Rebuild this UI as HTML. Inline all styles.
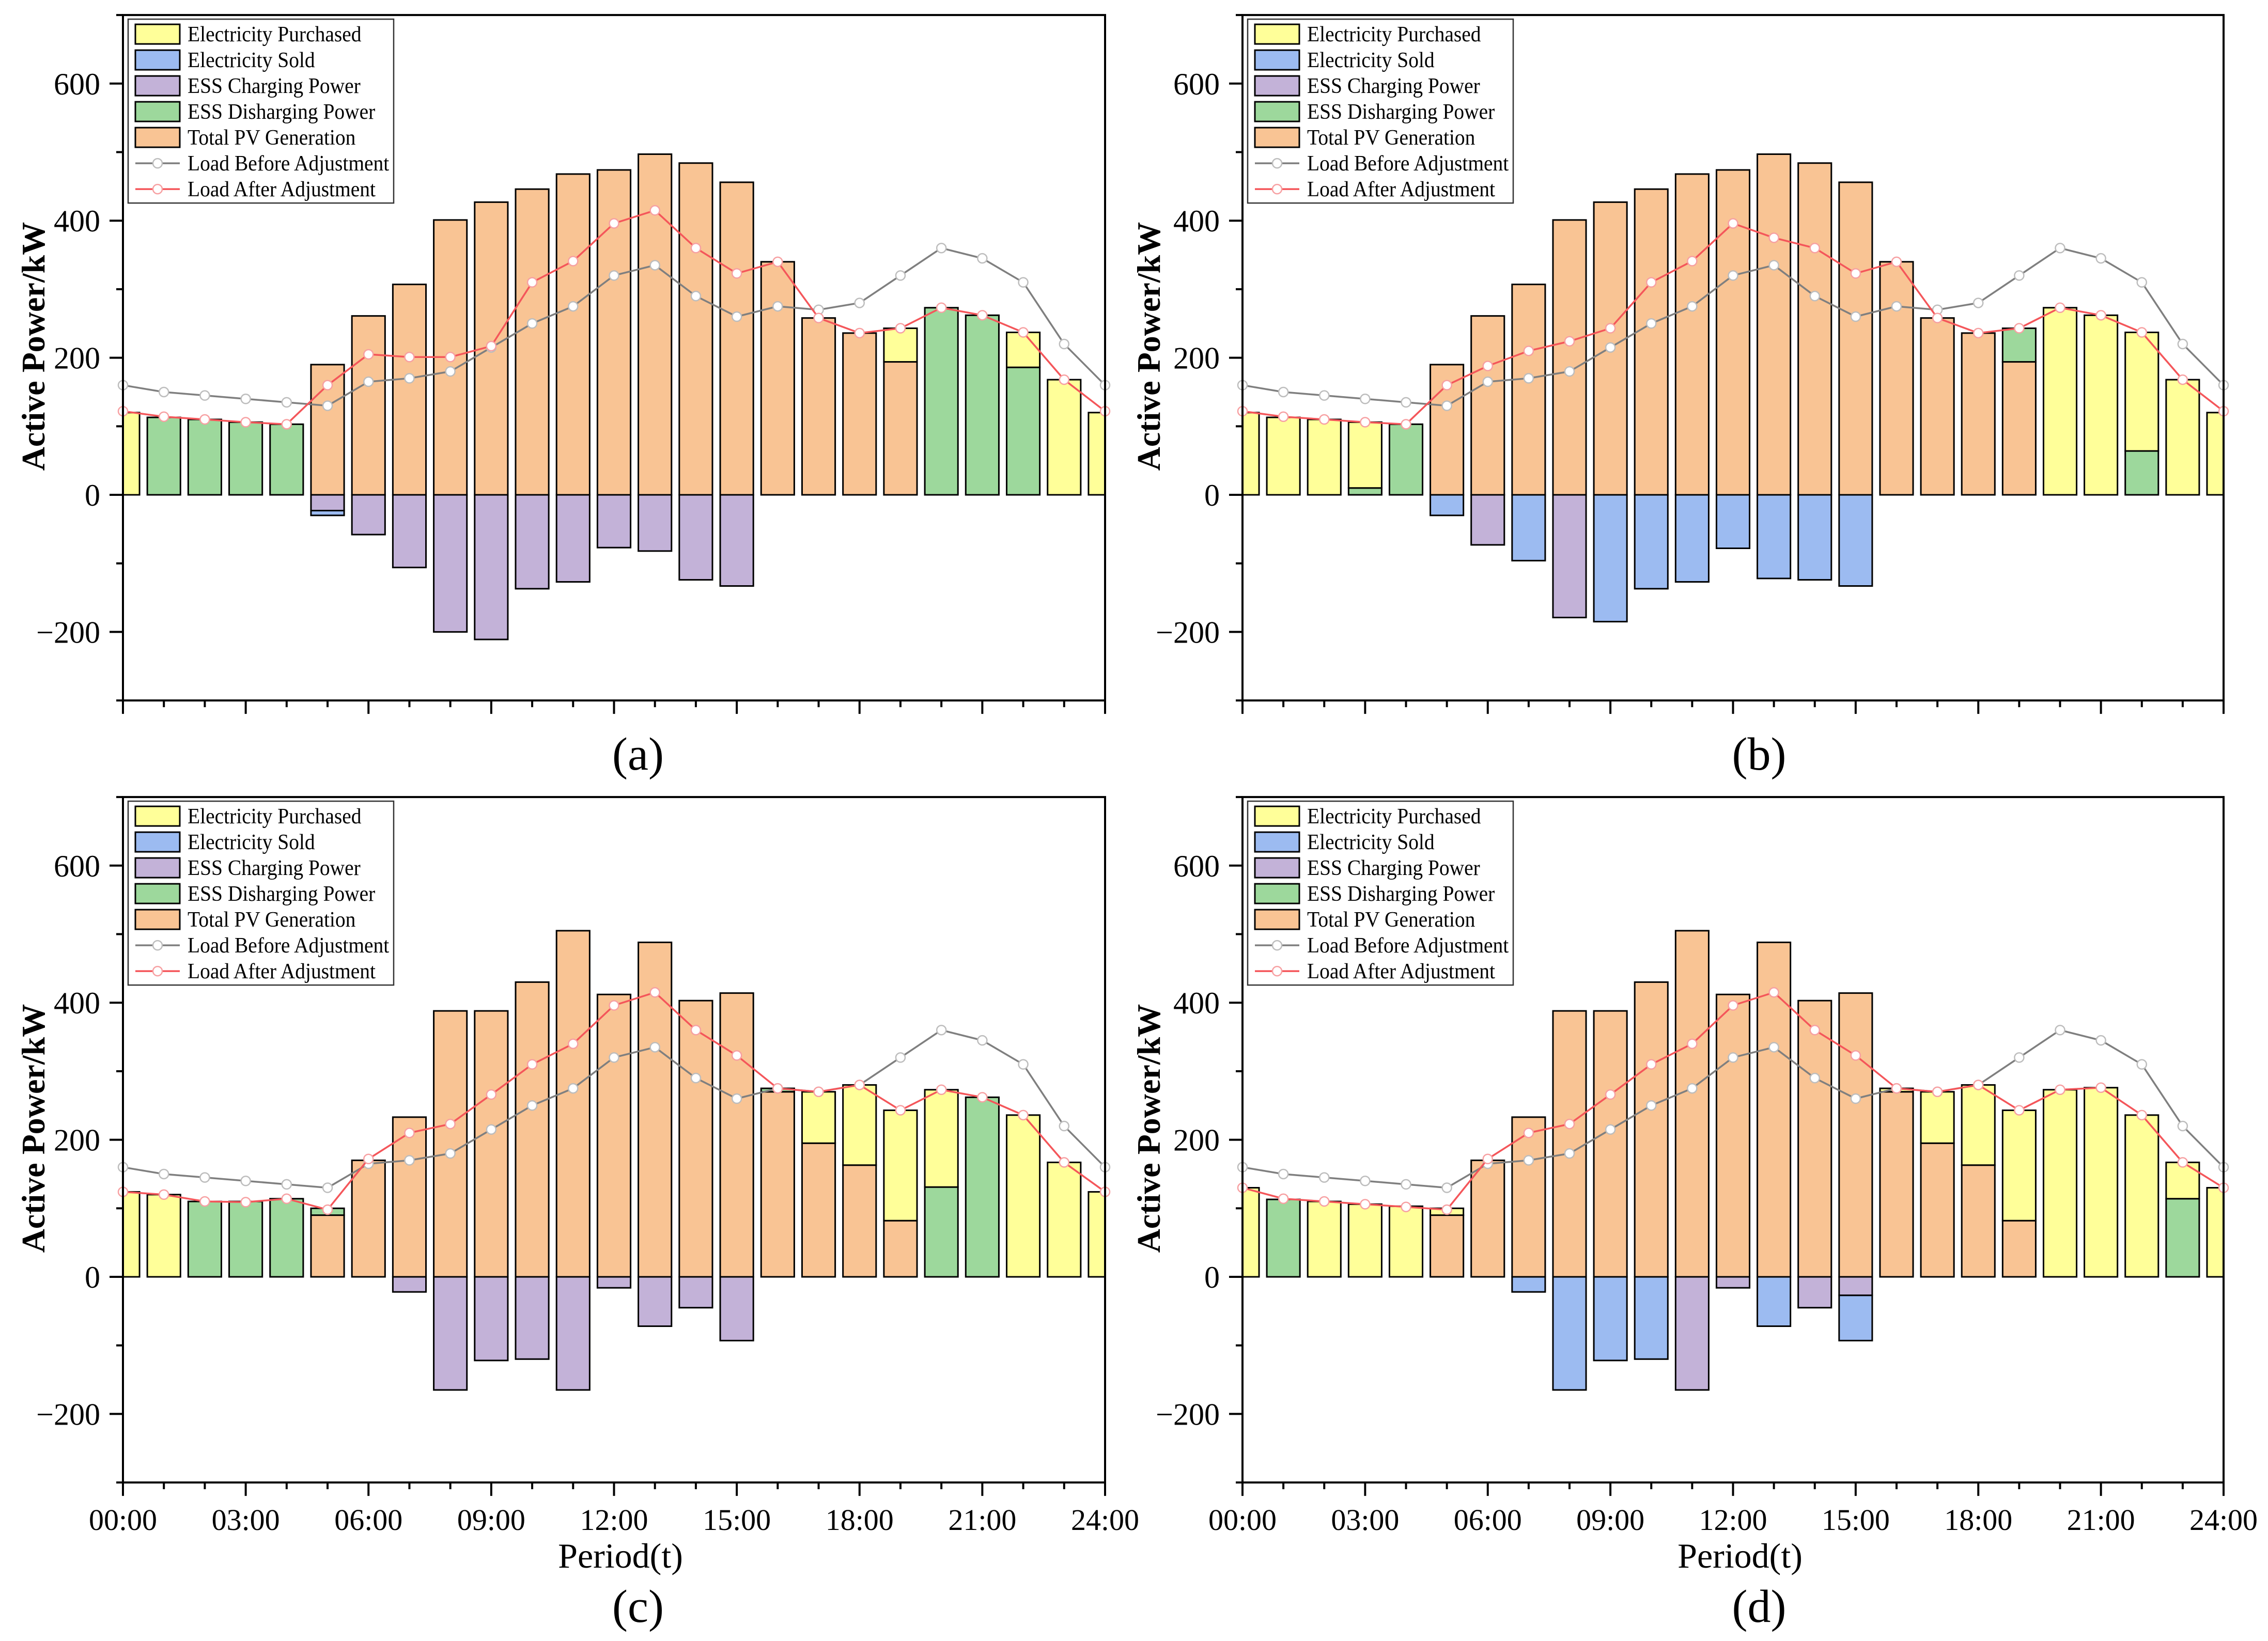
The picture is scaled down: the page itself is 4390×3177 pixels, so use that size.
<!DOCTYPE html>
<html><head><meta charset="utf-8"><style>html,body{margin:0;padding:0;background:#fff}svg{display:block}</style></head>
<body>
<svg id="chart" xmlns="http://www.w3.org/2000/svg" width="4390" height="3177" viewBox="0 0 4390 3177" font-family="'Liberation Serif', serif"></svg>
<script>
const hours = [0,1,2,3,4,5,6,7,8,9,10,11,12,13,14,15,16,17,18,19,20,21,22,23,24];
const xTickLabels = ["00:00","03:00","06:00","09:00","12:00","15:00","18:00","21:00","24:00"];
const yTickValues = [-200,0,200,400,600];
const legendLabels = ["Electricity Purchased","Electricity Sold","ESS Charging Power","ESS Disharging Power","Total PV Generation","Load Before Adjustment","Load After Adjustment"];
const loadBefore = [160,150,145,140,135,130,165,170,180,215,250,275,320,335,290,260,275,270,280,320,360,345,310,220,160];

// Panel (a)
const aPV   = [0,0,0,0,0,190,261,307,401,427,446,468,474,497,484,456,340,258,236,194,0,0,0,0,0];
const aDis  = [0,113,110,106,103,0,0,0,0,0,0,0,0,0,0,0,0,0,0,0,273,262,186,0,0];
const aBuy  = [120,0,0,0,0,0,0,0,0,0,0,0,0,0,0,0,0,0,0,49,0,0,51,168,120];
const aChg  = [0,0,0,0,0,23,58,106,200,211,137,127,77,82,124,133,0,0,0,0,0,0,0,0,0];
const aSold = [0,0,0,0,0,7,0,0,0,0,0,0,0,0,0,0,0,0,0,0,0,0,0,0,0];
const aAfter= [122,114,110,106,103,160,205,201,201,217,310,341,396,415,360,323,340,258,236,243,273,262,237,168,122];
// Panel (b)
const bPV   = [0,0,0,0,0,190,261,307,401,427,446,468,474,497,484,456,340,258,236,194,0,0,0,0,0];
const bDis  = [0,0,0,10,103,0,0,0,0,0,0,0,0,0,0,0,0,0,0,49,0,0,64,0,0];
const bBuy  = [120,113,110,96,0,0,0,0,0,0,0,0,0,0,0,0,0,0,0,0,273,262,173,168,120];
const bChg  = [0,0,0,0,0,0,73,0,179,0,0,0,0,0,0,0,0,0,0,0,0,0,0,0,0];
const bSold = [0,0,0,0,0,30,0,96,0,185,137,127,78,122,124,133,0,0,0,0,0,0,0,0,0];
const bAfter= [122,114,110,106,103,160,188,210,224,243,310,341,396,375,360,323,340,258,236,243,273,262,237,168,122];
// Panel (c)
const cPV   = [0,0,0,0,0,90,170,233,388,388,430,505,412,488,403,414,270,195,163,82,0,0,0,0,0];
const cDis  = [0,0,110,110,114,10,0,0,0,0,0,0,0,0,0,0,5,0,0,0,131,262,0,0,0];
const cBuy  = [124,120,0,0,0,0,0,0,0,0,0,0,0,0,0,0,0,75,117,161,142,0,236,167,124];
const cChg  = [0,0,0,0,0,0,0,22,165,122,120,165,16,72,45,93,0,0,0,0,0,0,0,0,0];
const cSold = [0,0,0,0,0,0,0,0,0,0,0,0,0,0,0,0,0,0,0,0,0,0,0,0,0];
const cAfter= [124,120,110,109,114,98,172,210,223,266,310,340,396,415,360,323,275,270,280,243,273,262,236,167,124];
// Panel (d)
const dPV   = [0,0,0,0,0,90,170,233,388,388,430,505,412,488,403,414,270,195,163,82,0,0,0,0,0];
const dDis  = [0,113,0,0,0,0,0,0,0,0,0,0,0,0,0,0,0,0,0,0,0,0,0,114,0];
const dBuy  = [130,0,110,106,103,10,0,0,0,0,0,0,0,0,0,0,5,75,117,161,273,276,236,53,130];
const dChg  = [0,0,0,0,0,0,0,0,0,0,0,165,16,0,45,27,0,0,0,0,0,0,0,0,0];
const dSold = [0,0,0,0,0,0,0,22,165,122,120,0,0,72,0,66,0,0,0,0,0,0,0,0,0];
const dAfter= [130,114,110,106,102,98,172,210,223,266,310,340,396,415,360,323,275,270,280,243,273,276,236,167,130];

const NS = "http://www.w3.org/2000/svg";
const svg = document.getElementById('chart');
const COL = {buy:"#FFFF99", sold:"#9CBBF1", chg:"#C3B2D8", dis:"#9DD89C", pv:"#F9C494"};
function mk(tag, attrs, parent){const e=document.createElementNS(NS,tag);for(const k in attrs)e.setAttribute(k,attrs[k]);(parent||svg).appendChild(e);return e;}

const panels = [
 {id:"a", x0:238, x1:2139, zero:958, pv:aPV, dis:aDis, buy:aBuy, chg:aChg, sold:aSold, after:aAfter, xl:false, ylx:64, lab:[1235,1490]},
 {id:"b", x0:2405, x1:4304, zero:958, pv:bPV, dis:bDis, buy:bBuy, chg:bChg, sold:bSold, after:bAfter, xl:false, ylx:2223, lab:[3405,1490]},
 {id:"c", x0:238, x1:2139, zero:2472, pv:cPV, dis:cDis, buy:cBuy, chg:cChg, sold:cSold, after:cAfter, xl:true, ylx:64, lab:[1235,3140]},
 {id:"d", x0:2405, x1:4304, zero:2472, pv:dPV, dis:dDis, buy:dBuy, chg:dChg, sold:dSold, after:dAfter, xl:true, ylx:2223, lab:[3405,3140]}
];
const K = 1.327;

panels.forEach(p=>{
  const g = mk('g',{});
  
  
  const X = h => p.x0 + (p.x1-p.x0)*h/24;
  const Y = v => p.zero - v*K;
  const top = Y(700), bot = Y(-300);
  const cp = mk('clipPath',{id:'clip'+p.id},g);
  mk('rect',{x:p.x0,y:top,width:p.x1-p.x0,height:bot-top},cp);
  const bars = mk('g',{'clip-path':'url(#clip'+p.id+')'},g);
  
  
  const bw = (p.x1-p.x0)/24*0.81;
  hours.forEach((h,i)=>{
    let base=0;
    [['pv',p.pv],['dis',p.dis],['buy',p.buy]].forEach(([k,arr])=>{
      const v=arr[i]; if(!v) return;
      const r=mk('rect',{x:X(h)-bw/2,y:Y(base+v),width:bw,height:v*K,fill:COL[k],stroke:"#000","stroke-width":3},bars);
      
      
      base+=v;
    });
    base=0;
    [['chg',p.chg],['sold',p.sold]].forEach(([k,arr])=>{
      const v=arr[i]; if(!v) return;
      const r=mk('rect',{x:X(h)-bw/2,y:Y(base),width:bw,height:v*K,fill:COL[k],stroke:"#000","stroke-width":3},bars);
      
      
      base-=v;
    });
  });
  [[loadBefore,"#7f7f7f","#bdbdbd",'load-before'],[p.after,"#F4565A","#F7A0A2",'load-after']].forEach(([arr,c,mc,nm])=>{
    const pl=mk('polyline',{points:arr.map((v,i)=>X(hours[i])+','+Y(v)).join(' '),fill:'none',stroke:c,'stroke-width':3.5},g);
    
    
    arr.forEach((v,i)=>{
      const m=mk('circle',{cx:X(hours[i]),cy:Y(v),r:9,fill:'#fff',stroke:mc,'stroke-width':2.5},g);
      
      
    });
  });
  const fr=mk('rect',{x:p.x0,y:top,width:p.x1-p.x0,height:bot-top,fill:'none',stroke:'#000','stroke-width':4},g);
  
  
  for(let h=0;h<=24;h++){
    const len = h%3===0?26:13;
    mk('line',{x1:X(h),x2:X(h),y1:bot,y2:bot+len,stroke:'#000','stroke-width':4},g);
  }
  if(p.xl){
    xTickLabels.forEach((t,i)=>{
      const tx=mk('text',{x:X(i*3),y:bot+92,'font-size':58,'text-anchor':'middle'},g);
      tx.textContent=t;
      
      
    });
    const xt=mk('text',{x:1201+(p.x0-238),y:bot+165,'font-size':68,'text-anchor':'middle'},g);
    xt.textContent="Period(t)";
    
    
  }
  for(let v=-300;v<=700;v+=100){
    const len = v%200===0?26:13;
    mk('line',{x1:p.x0-len,x2:p.x0,y1:Y(v),y2:Y(v),stroke:'#000','stroke-width':4},g);
  }
  yTickValues.forEach(v=>{
    const tx=mk('text',{x:p.x0-44,y:Y(v)+21,'font-size':60,'text-anchor':'end'},g);
    tx.textContent = v<0 ? '\u2212'+(-v) : String(v);
    
    
  });
  const yc = (top+bot)/2 - 22;
  const yt=mk('text',{x:p.ylx,y:yc,'font-size':64,'font-weight':'bold','text-anchor':'middle',transform:`rotate(-90 ${p.ylx} ${yc}) translate(0 22)`},g);
  yt.textContent="Active Power/kW";
  
  
  const pl=mk('text',{x:p.lab[0],y:p.lab[1],'font-size':90,'text-anchor':'middle'},g);
  pl.textContent='('+p.id+')';
  
  
  const lx=p.x0+10, ly=top+8;
  const lg=mk('g',{},g);
  
  
  mk('rect',{x:lx,y:ly,width:514,height:356,fill:'#fff',stroke:'#333','stroke-width':2.5},lg);
  const keys=['buy','sold','chg','dis','pv'];
  legendLabels.forEach((t,i)=>{
    const cy=ly+29+i*50;
    const ent=mk('g',{},lg);
    
    
    if(i<5){
      mk('rect',{x:lx+14,y:cy-19,width:86,height:38,fill:COL[keys[i]],stroke:'#000','stroke-width':3},ent);
    } else {
      const c=i===5?"#7f7f7f":"#F4565A", mc=i===5?"#bdbdbd":"#F7A0A2";
      mk('line',{x1:lx+14,x2:lx+100,y1:cy,y2:cy,stroke:c,'stroke-width':3.5},ent);
      mk('circle',{cx:lx+57,cy:cy,r:9,fill:'#fff',stroke:mc,'stroke-width':2.5},ent);
    }
    const tx=mk('text',{x:0,y:0,'font-size':42,transform:`translate(${lx+115} ${cy+14}) scale(0.94 1)`},ent);
    tx.textContent=t;
  });
});
</script>
</body></html>
